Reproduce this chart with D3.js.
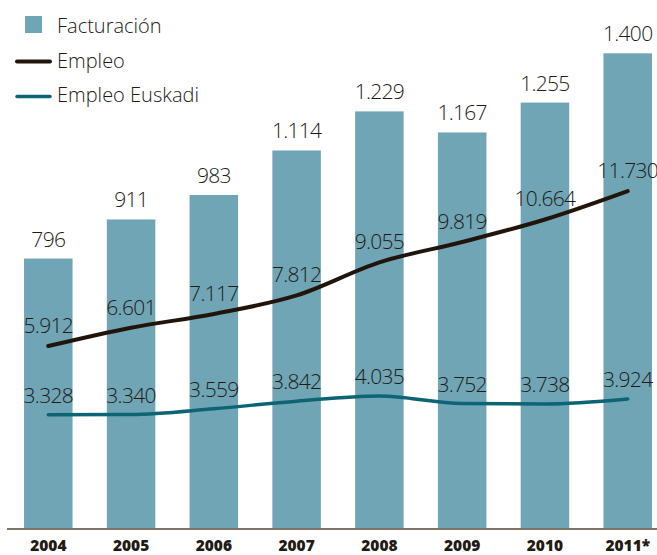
<!DOCTYPE html>
<html>
<head>
<meta charset="utf-8">
<script src="https://cdn.jsdelivr.net/npm/d3@7"></script>
<style>
  body { margin: 0; background: #fff; }
  text { font-family: "Open Sans", sans-serif; fill: #231a14; }
  .val { font-size: 21px; font-weight: 300; letter-spacing: -0.7px; }
  .year { font-size: 15.5px; font-weight: 800; }
  .leg { font-size: 20px; font-weight: 300; }
</style>
</head>
<body>
<div class="chart"></div>
<script>
var years = ["2004", "2005", "2006", "2007", "2008", "2009", "2010", "2011*"];
var facturacion = [796, 911, 983, 1114, 1229, 1167, 1255, 1400];
var empleo = [5912, 6601, 7117, 7812, 9055, 9819, 10664, 11730];
var empleoEuskadi = [3328, 3340, 3559, 3842, 4035, 3752, 3738, 3924];

var width = 657, height = 555;
var base = 529;

var fmt = d3.formatLocale({decimal: ",", thousands: ".", grouping: [3]}).format(",d");

var svg = d3.select(".chart")
    .append("svg")
    .attr("width", width)
    .attr("height", height);

var x = d3.scaleBand()
    .domain(years)
    .range([6.9, 669.1])
    .paddingInner(0.414)
    .paddingOuter(0.207);

var yBar = d3.scaleLinear().domain([0, 1400]).range([base, 53.3]);
// lines use their own scale
var yLine = d3.scaleLinear().domain([0, 15000]).range([503.5, 104]);

svg.selectAll(".bar")
    .data(facturacion)
    .enter()
    .append("rect")
    .attr("class", "bar")
    .attr("x", function(d, i){ return x(years[i]); })
    .attr("width", x.bandwidth())
    .attr("y", function(d){ return yBar(d); })
    .attr("height", function(d){ return base - yBar(d); })
    .style("fill", "#6fa5b5");

svg.selectAll(".barval")
    .data(facturacion)
    .enter()
    .append("text")
    .attr("class", "val")
    .attr("text-anchor", "middle")
    .attr("x", function(d, i){ return x(years[i]) + x.bandwidth() / 2; })
    .attr("y", function(d){ return yBar(d) - 12; })
    .text(function(d){ return fmt(d); });

var line = d3.line()
    .x(function(d, i){ return x(years[i]) + x.bandwidth() / 2; })
    .y(function(d){ return yLine(d); })
    .curve(d3.curveMonotoneX);

var series = [
    {values: empleo, color: "#21150b", w: 4, dy: -13},
    {values: empleoEuskadi, color: "#0c6474", w: 3.5, dy: -12}
];

series.forEach(function(s){
    svg.append("path")
        .attr("d", line(s.values))
        .style("fill", "none")
        .style("stroke", s.color)
        .style("stroke-width", s.w)
        .style("stroke-linecap", "round");
});

series.forEach(function(s){
    svg.selectAll(null)
        .data(s.values)
        .enter()
        .append("text")
        .attr("class", "val")
        .attr("text-anchor", "middle")
        .attr("x", function(d, i){ return x(years[i]) + x.bandwidth() / 2; })
        .attr("y", function(d){ return yLine(d) + s.dy; })
        .text(function(d){ return fmt(d); });
});

// axis
var xAxis = d3.axisBottom(x).tickSize(0).tickPadding(0);
var ax = svg.append("g")
    .attr("transform", "translate(0," + base + ")")
    .call(xAxis);
ax.select(".domain").remove();
ax.selectAll("text")
    .attr("class", "year")
    .attr("fill", null)
    .attr("y", 22)
    .attr("dy", null);

svg.append("line")
    .attr("x1", 7).attr("x2", 657)
    .attr("y1", base).attr("y2", base)
    .style("stroke", "#7d746c")
    .style("stroke-width", 2);

// legend
var legend = svg.append("g");
legend.append("rect")
    .attr("x", 25).attr("y", 16)
    .attr("width", 17).attr("height", 17)
    .style("fill", "#6fa5b5");
legend.append("text").attr("class", "leg")
    .attr("x", 57).attr("y", 33).text("Facturación");

legend.append("line")
    .attr("x1", 17).attr("x2", 50).attr("y1", 61.5).attr("y2", 61.5)
    .style("stroke", "#21150b").style("stroke-width", 4).style("stroke-linecap", "round");
legend.append("text").attr("class", "leg")
    .attr("x", 57).attr("y", 68).text("Empleo");

legend.append("line")
    .attr("x1", 17).attr("x2", 50).attr("y1", 96.5).attr("y2", 96.5)
    .style("stroke", "#0c6474").style("stroke-width", 3.5).style("stroke-linecap", "round");
legend.append("text").attr("class", "leg")
    .attr("x", 57).attr("y", 102).text("Empleo Euskadi");
</script>
</body>
</html>
